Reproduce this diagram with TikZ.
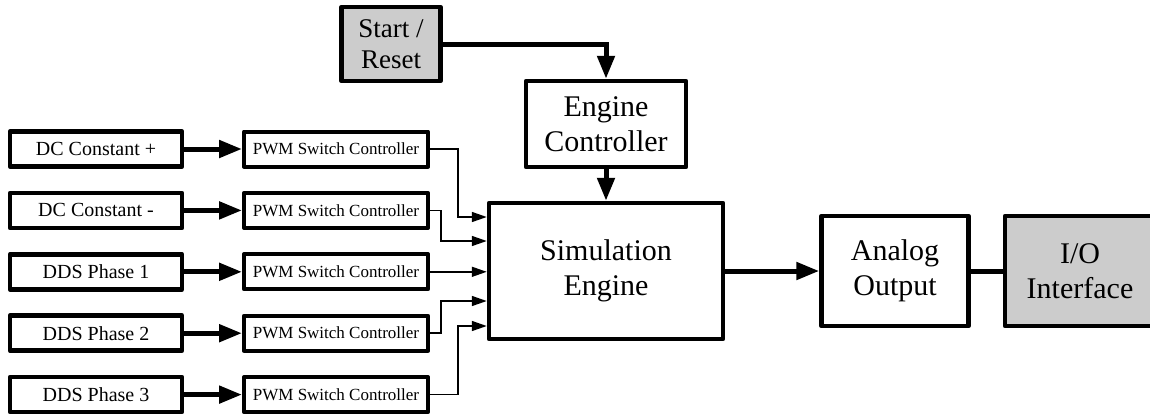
\documentclass[tikz,border=0pt]{standalone}
\usepackage{fontspec}
\setmainfont{Liberation Serif}
\usetikzlibrary{arrows.meta}
\definecolor{boxgray}{HTML}{CCCCCC}
\tikzset{
  blk/.style={draw, line width=4.5pt, line join=round, fill=white, align=center, inner sep=0pt},
  src/.style={blk, minimum width=172pt, minimum height=35pt, font=\fontsize{20}{22}\selectfont},
  pwm/.style={blk, line width=4pt, minimum width=184pt, minimum height=35pt, font=\fontsize{17}{19}\selectfont},
  engblk/.style={blk, font=\fontsize{30}{35}\selectfont},
  fat/.style={line width=5pt, -{Triangle[length=23pt,width=17pt]}},
  wire/.style={line width=1.6pt, -{Triangle[length=15pt,width=10pt]}},
}

\begin{document}
\begin{tikzpicture}[x=1pt, y=-1pt]
  \useasboundingbox (0,0) rectangle (1150,416);
  \clip (0,0) rectangle (1150,416);

  % engine and its controller
  \node[engblk, minimum width=234pt, minimum height=136pt] (sim) at (606,271) {Simulation\\Engine};
  \node[engblk, minimum width=160pt, minimum height=86pt] (ec) at (606,124) {Engine\\Controller};
  \node[engblk, fill=boxgray, minimum width=99pt, minimum height=74pt,
        font=\fontsize{27}{31}\selectfont] (sr) at (391,44) {Start /\\Reset};
  \draw[fat] (sr.east) -| (ec.north);
  \draw[fat] (ec) -- (sim);

  % output side
  \node[engblk, minimum width=147pt, minimum height=110pt] (ana) at (895,271) {Analog\\Output};
  \node[engblk, fill=boxgray, minimum width=150pt, minimum height=110pt] (io) at (1080,271) {I/O\\Interface};
  \draw[fat] (sim) -- (ana);
  \draw[line width=5pt] (ana) -- (io);

  % sources and switch controllers
  \foreach \lbl [count=\i] in {DC Constant +, DC Constant -, DDS Phase 1, DDS Phase 2, DDS Phase 3} {
    \pgfmathsetmacro{\ry}{149+61.4*(\i-1)}
    \node[src] (s\i) at (96,\ry) {\lbl};
    \node[pwm] (p\i) at (336,\ry) {PWM Switch Controller};
    \draw[fat] (s\i) -- (p\i);
  }

  % switch outputs into the engine
  \draw[wire] (p1.east) -- ++(28,0) |- ([yshift=54pt]sim.west);
  \draw[wire] (p2.east) -- ++(11,0) |- ([yshift=30pt]sim.west);
  \draw[wire] (p3.east) -- (p3.east -| sim.west);
  \draw[wire] (p4.east) -- ++(11,0) |- ([yshift=-30pt]sim.west);
  \draw[wire] (p5.east) -- ++(28,0) |- ([yshift=-55pt]sim.west);
\end{tikzpicture}
\end{document}
